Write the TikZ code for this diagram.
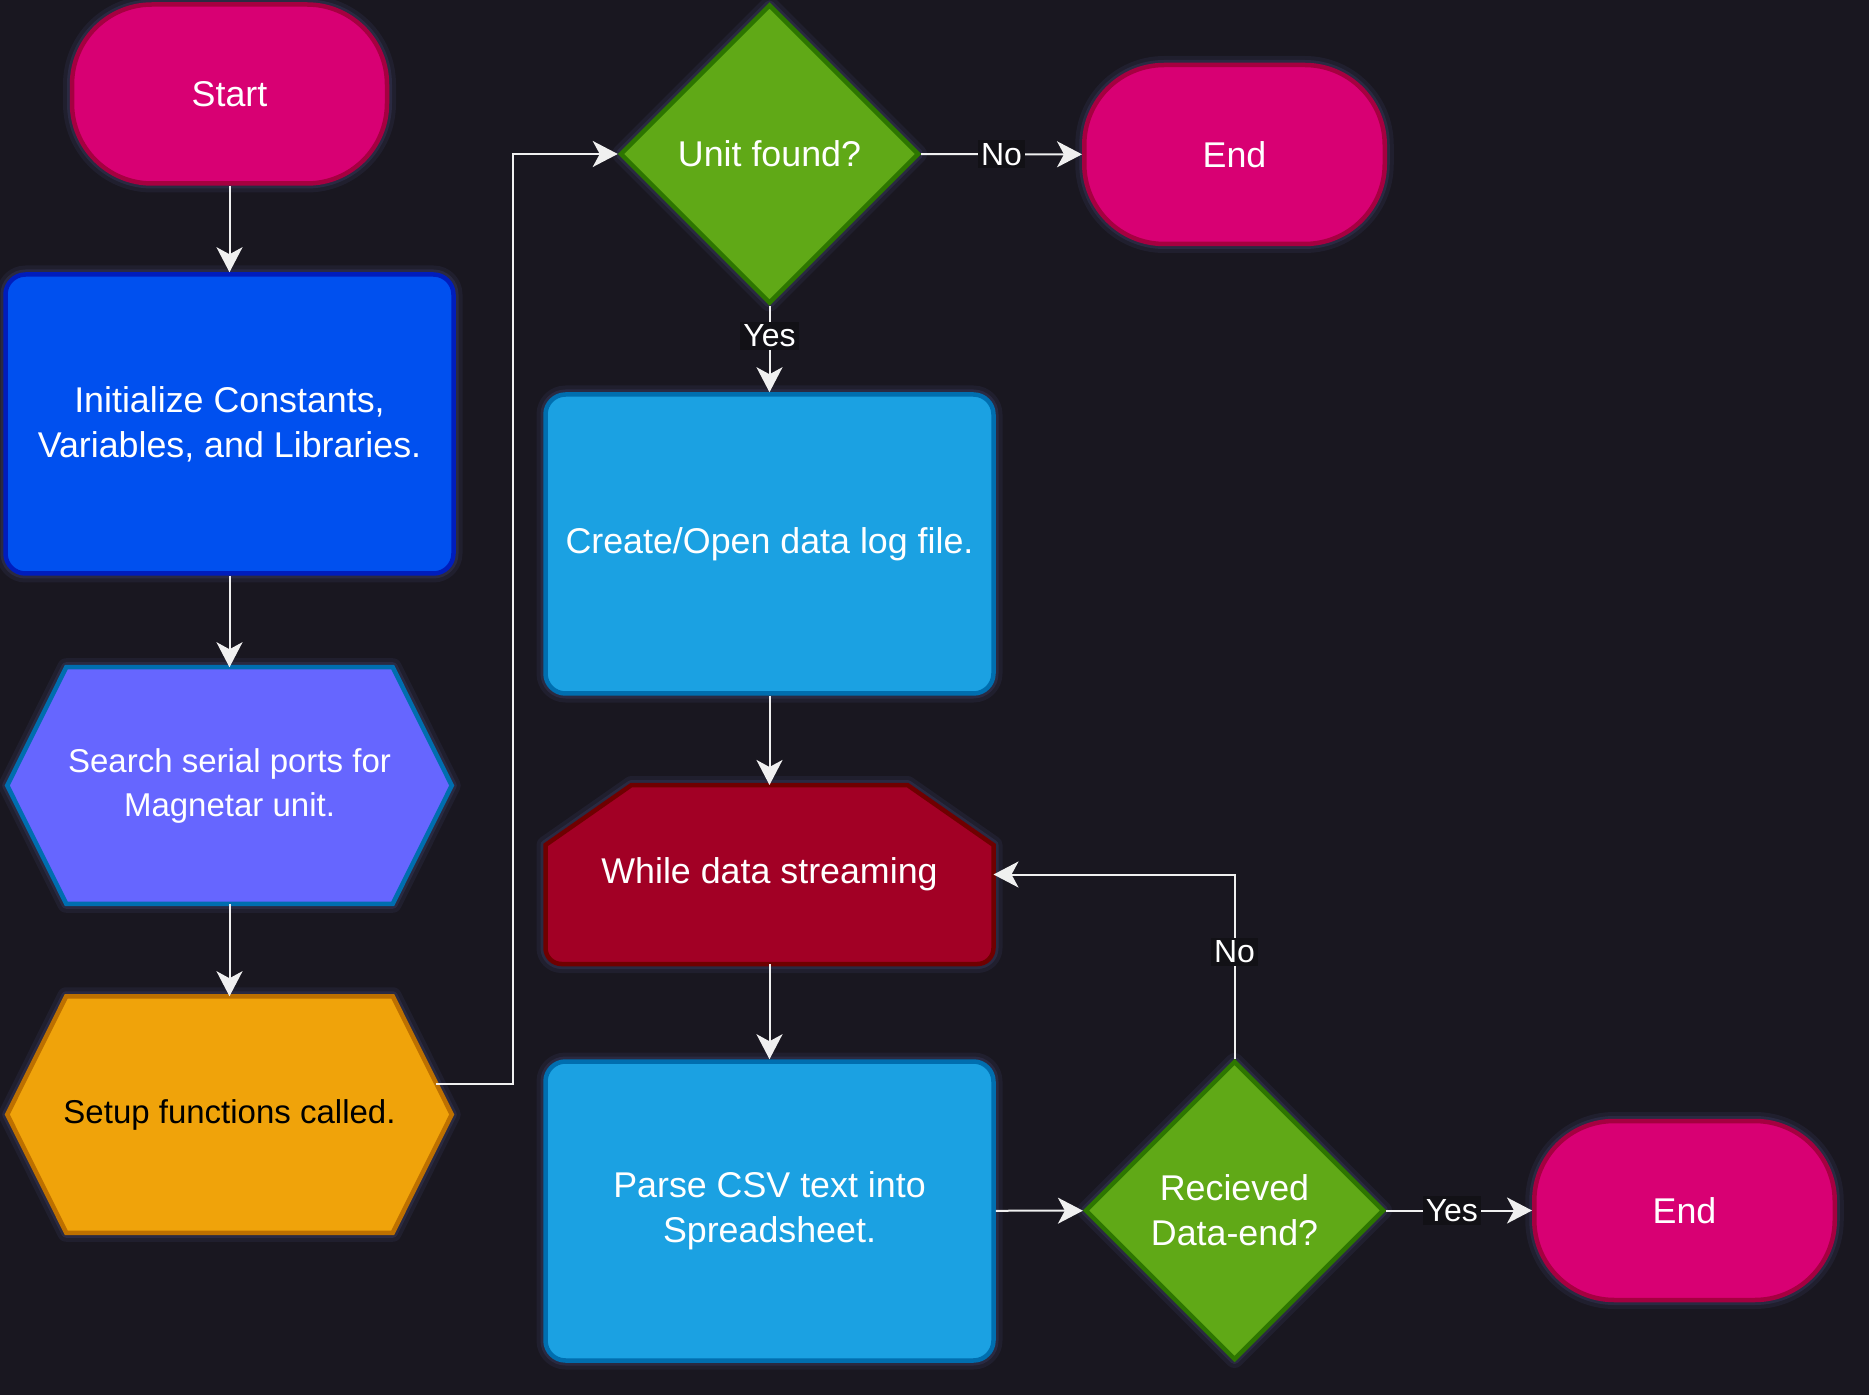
\documentclass[tikz,border=0pt]{standalone}
\usepackage{fontspec}
\setmainfont{Liberation Sans}
\usetikzlibrary{%
  arrows.meta,%
  shapes.geometric,% wg. diamond
  positioning,%
  calc,%
  backgrounds%
}
\definecolor{canvasc}{RGB}{25,23,32}
\definecolor{glowc}{RGB}{50,50,80}
\definecolor{linec}{RGB}{240,240,240}
\definecolor{labelc}{RGB}{18,17,22}
\definecolor{pinkf}{HTML}{D80073}   \definecolor{pinkd}{HTML}{A50040}
\definecolor{bluef}{HTML}{0050EF}   \definecolor{blued}{HTML}{001DBC}
\definecolor{violf}{HTML}{6666FF}   \definecolor{skyd}{HTML}{006EAF}
\definecolor{skyf}{HTML}{1BA1E2}
\definecolor{orangef}{HTML}{F0A30A} \definecolor{oranged}{HTML}{BD7000}
\definecolor{greenf}{HTML}{60A917}  \definecolor{greend}{HTML}{2D7600}
\definecolor{redf}{HTML}{A20025}    \definecolor{redd}{HTML}{6F0000}
\pgfdeclarelayer{canvas}
\pgfsetlayers{canvas,background,main}

\begin{document}
\begin{tikzpicture}[x=0.5pt, y=-0.5pt,
  every node/.style = {align=center, text=white, inner sep=0pt,
    font=\fontsize{17.9}{22.5}\selectfont},
  glow/.style = {preaction={draw=glowc, line width=9pt, opacity=.3, line join=round},
    preaction={draw=glowc, line width=5pt, opacity=.6, line join=round}},
  terminal/.style = {rectangle, rounded corners=40pt, draw=pinkd, fill=pinkf,
    line width=2.25pt, minimum width=157.5pt, minimum height=89.5pt, glow},
  process/.style = {rectangle, rounded corners=10pt, line width=2.25pt,
    minimum width=224pt, minimum height=149.5pt, glow},
  decision/.style = {diamond, draw=greend, fill=greenf, line width=2.25pt,
    minimum width=149.5pt, minimum height=149.5pt, glow},
  hexbox/.style = {rectangle, outer sep=0pt, minimum width=222.25pt,
    minimum height=118.25pt, font=\fontsize{16.5}{22}\selectfont},
  loopbox/.style = {rectangle, outer sep=0pt, minimum width=224pt,
    minimum height=89.5pt},
  flow/.style = {draw=linec, line width=1pt,
    -{Stealth[length=12.5pt, width=13pt, inset=3.5pt]}},
  lbl/.style = {fill=labelc, inner sep=1.5pt, font=\fontsize{16}{19}\selectfont}]

  \useasboundingbox (0,0) rectangle (1869,1395);
  \begin{pgfonlayer}{canvas}
    \fill[canvasc] (0,0) rectangle (1869,1395);
  \end{pgfonlayer}

  % left column
  \node[terminal] (start) at (229.5,94) {Start};
  \node[process, fill=bluef, draw=blued] (init) at (229.5,424)
    {Initialize Constants,\\Variables, and Libraries.};
  \node[hexbox] (search) at (229.5,785.5) {Search serial ports for\\Magnetar unit.};
  \node[hexbox, text=black] (setup) at (229.5,1114.5) {Setup functions called.};

  % middle column
  \node[decision] (unit) at (769.5,154) {Unit found?};
  \node[process, fill=skyf, draw=skyd] (create) at (769.5,544) {Create/Open data log file.};
  \node[loopbox] (while) at (769.5,874.5) {While data streaming};
  \node[process, fill=skyf, draw=skyd] (parse) at (769.5,1211)
    {Parse CSV text into\\Spreadsheet.};

  % right side
  \node[terminal, minimum width=150.25pt] (end1) at (1234.5,154.5) {End};
  \node[decision] (recv) at (1234.5,1210.5) {Recieved\\Data-end?};
  \node[terminal, minimum width=150.25pt] (end2) at (1684.5,1210.5) {End};

  \begin{scope}[on background layer]
    \foreach \n/\f/\d in {search/violf/skyd, setup/orangef/oranged}
      \draw[line width=2.25pt, fill=\f, draw=\d, glow]
        ([xshift=29.5pt]\n.north west) -- ([xshift=-29.5pt]\n.north east) -- (\n.east)
        -- ([xshift=-29.5pt]\n.south east) -- ([xshift=29.5pt]\n.south west)
        -- (\n.west) -- cycle;
    \draw[line width=2.25pt, fill=redf, draw=redd, glow]
      ([yshift=-30pt]while.north west) -- ([xshift=43pt]while.north west)
      -- ([xshift=-43pt]while.north east) -- ([yshift=-30pt]while.north east)
      [rounded corners=8pt] -- (while.south east) -- (while.south west)
      [sharp corners] -- cycle;
  \end{scope}

  \coordinate (setupout) at ($([xshift=-29.5pt]setup.north east)!0.74!(setup.east)$);
  \coordinate (bend) at (513,154);

  \draw[flow] (start) -- (init);
  \draw[flow] (init) -- (search);
  \draw[flow] (search) -- (setup);
  \draw[flow] (setupout) -| (bend) -- (unit);
  \draw[flow] (unit) -- node[lbl]{No} (end1);
  \draw[flow] (unit) -- node[lbl, pos=0.35]{Yes} (create);
  \draw[flow] (create) -- (while);
  \draw[flow] (while) -- (parse);
  \draw[flow] (parse) -- (recv);
  \draw[flow] (recv) -- node[lbl, pos=0.45]{Yes} (end2);
  \draw[flow] (recv) |- node[lbl, pos=0.29]{No} (while);
\end{tikzpicture}
\end{document}
